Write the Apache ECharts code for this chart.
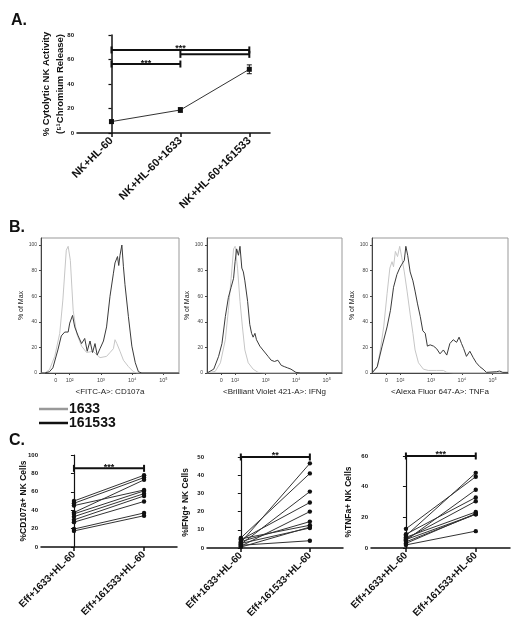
<!DOCTYPE html>
<html><head><meta charset="utf-8">
<script src="https://cdn.jsdelivr.net/npm/echarts@6/dist/echarts.min.js"></script>
<style>html,body{margin:0;padding:0;background:#fff}#c{width:520px;height:631px}</style>
</head><body><div id="c"></div><script>
// ---------- Panel A data ----------
const aCategories = ['NK+HL-60', 'NK+HL-60+1633', 'NK+HL-60+161533'];
const aMeans = [9.3, 18.8, 52];
const aErrors = [1.3, 1.9, 3.6];
const aBracketSpans = [[0, 2, 67.8], [1, 2, 64.2], [0, 1, 56.3]];
const aBracketLabels = ['***', '', '***'];
const aYTicks = [0, 20, 40, 60, 80];

// ---------- Panel B data (x in log-decade units, y = % of Max) ----------
const bTickValues = [1.55, 2, 3, 4, 5];
const bTickLabels = ['0', '10²', '10³', '10⁴', '10⁵'];
const bYTicks = [0, 20, 40, 60, 80, 100];
const bAxisNames = ['<FITC-A>: CD107a', '<Brilliant Violet 421-A>: IFNg', '<Alexa Fluor 647-A>: TNFa'];
const cd107Gray = [[1.08,0],[1.2,0],[1.35,2.6],[1.52,13],[1.68,31],[1.78,57],[1.89,96],[1.95,99],[2.02,88],[2.11,49],[2.22,31],[2.38,21],[2.54,16],[2.75,17],[2.97,12],[3.18,13],[3.29,16],[3.40,19],[3.45,26],[3.51,23],[3.61,17],[3.72,10],[3.88,5],[4.04,1],[4.15,0],[5.5,0]];
const cd107Black = [[1.08,0],[1.2,0],[1.35,1],[1.46,4],[1.62,18],[1.73,29],[1.84,32],[1.95,32],[2.0,39],[2.09,45],[2.16,36],[2.27,29],[2.38,23],[2.48,27],[2.56,17],[2.65,25],[2.73,16],[2.81,23],[2.88,14],[2.97,19],[3.08,25],[3.18,36],[3.29,60],[3.40,78],[3.45,86],[3.53,91],[3.57,84],[3.61,92],[3.67,100],[3.72,83],[3.77,69],[3.88,44],[3.99,21],[4.10,8],[4.20,1],[4.31,0],[5.5,0]];
const ifngGray = [[1.08,0],[1.14,0],[1.35,1.3],[1.52,8],[1.68,26],[1.78,49],[1.87,74],[1.95,97],[2.0,99],[2.08,82],[2.16,56],[2.24,36],[2.32,18],[2.43,8],[2.59,3],[2.75,0.5],[2.97,0],[5.5,0]];
const ifngBlack = [[1.08,0],[1.14,0],[1.30,3],[1.46,13],[1.57,23],[1.68,44],[1.78,59],[1.87,67],[1.95,74],[2.0,87],[2.05,97],[2.11,92],[2.16,99],[2.22,82],[2.27,79],[2.32,72],[2.41,56],[2.48,38],[2.54,31],[2.59,28],[2.65,31],[2.70,26],[2.81,21],[2.91,18],[3.08,13],[3.18,10],[3.29,9],[3.40,10],[3.51,6],[3.61,5],[3.72,4],[3.83,3],[3.99,0.5],[4.15,0],[5.5,0]];
const tnfGray = [[1.08,0],[1.12,0],[1.25,4],[1.35,18],[1.46,36],[1.57,62],[1.66,82],[1.73,87],[1.78,83],[1.84,95],[1.91,91],[1.98,99],[2.05,90],[2.13,79],[2.22,64],[2.32,46],[2.41,31],[2.48,18],[2.59,8],[2.75,3],[2.91,2],[3.18,2],[3.40,2],[3.51,0.5],[3.72,0],[5.5,0]];
const tnfBlack = [[1.08,0],[1.12,0],[1.25,5],[1.41,21],[1.57,36],[1.68,49],[1.78,67],[1.89,77],[1.98,82],[2.05,85],[2.13,88],[2.18,99],[2.24,92],[2.32,79],[2.41,72],[2.48,64],[2.56,54],[2.65,44],[2.73,33],[2.81,31],[2.88,21],[2.97,22],[3.08,21],[3.18,19],[3.29,15],[3.40,18],[3.51,14],[3.61,23],[3.72,26],[3.83,24],[3.91,28],[3.99,23],[4.06,19],[4.15,13],[4.26,17],[4.37,12],[4.47,8],[4.58,5],[4.69,3],[4.80,0.5],[5.12,1],[5.23,1.5],[5.33,0.5],[5.5,0.5]];

// ---------- Panel C data (paired donors) ----------
const cCategories = ['Eff+1633+HL-60', 'Eff+161533+HL-60'];
const cd107Before = [50, 47.5, 45, 37.5, 36, 33, 29.5, 27, 19.5, 17.5];
const cd107After  = [78, 75.5, 62, 73, 61, 58, 55.5, 49.5, 37, 34];
const ifngBefore  = [3, 5.5, 2, 4.5, 1, 3.5, 5, 0.5, 2.5, 1.5];
const ifngAfter   = [46.5, 41, 31, 25, 20, 14.5, 12.5, 11.5, 11, 4];
const tnfBefore   = [8, 12.5, 5, 9, 6, 7, 3, 5.5, 4, 2];
const tnfAfter    = [49, 46.5, 38, 33, 30.5, 23.5, 22.5, 22, 22, 11];
const cYNames = ['%CD107a+ NK Cells', '%IFNg+ NK Cells', '%TNFa+ NK Cells'];
const cYMax = [100, 50, 60];
const cYTicks = [[0,20,40,60,80,100],[0,10,20,30,40,50],[0,20,40,60]];
const cBracketY = [85.5, 50, 60];
const cBracketLabels = ['***', '**', '***'];

// ---------- build ----------
const FONT = 'Liberation Sans, Arial, sans-serif';
const INK = '#111';

function bracketSeries(xi, spans, labels, lw) {
  return {
    type: 'custom', xAxisIndex: xi, yAxisIndex: xi, silent: true, z: 5,
    data: spans,
    renderItem(params, api) {
      const p1 = api.coord([api.value(0), api.value(2)]);
      const p2 = api.coord([api.value(1), api.value(2)]);
      const cap = 3.5;
      const st = { stroke: INK, lineWidth: lw };
      const ch = [
        { type: 'line', shape: { x1: p1[0], y1: p1[1], x2: p2[0], y2: p2[1] }, style: st },
        { type: 'line', shape: { x1: p1[0], y1: p1[1] - cap, x2: p1[0], y2: p1[1] + cap }, style: st },
        { type: 'line', shape: { x1: p2[0], y1: p2[1] - cap, x2: p2[0], y2: p2[1] + cap }, style: st }
      ];
      const lab = labels[params.dataIndex];
      if (lab) ch.push({ type: 'text', x: (p1[0] + p2[0]) / 2, y: p1[1] - 1,
        style: { text: lab, align: 'center', verticalAlign: 'middle', font: 'bold 9px ' + FONT, fill: INK } });
      return { type: 'group', children: ch };
    }
  };
}

function pairSeries(xi, before, after) {
  return {
    type: 'custom', xAxisIndex: xi, yAxisIndex: xi, silent: true, z: 4,
    data: before.map((b, i) => [b, after[i]]),
    renderItem(params, api) {
      const p0 = api.coord([0, api.value(0)]);
      const p1 = api.coord([1, api.value(1)]);
      return { type: 'group', children: [
        { type: 'line', shape: { x1: p0[0], y1: p0[1], x2: p1[0], y2: p1[1] }, style: { stroke: '#333', lineWidth: 1 } },
        { type: 'circle', shape: { cx: p0[0], cy: p0[1], r: 2.2 }, style: { fill: INK } },
        { type: 'circle', shape: { cx: p1[0], cy: p1[1], r: 2.2 }, style: { fill: INK } }
      ]};
    }
  };
}

const grids = [
  { left: 77, top: 35, width: 193, height: 98 },
  { left: 41, top: 238, width: 138, height: 135, show: true, borderColor: '#999', borderWidth: 1 },
  { left: 207, top: 238, width: 135, height: 135, show: true, borderColor: '#999', borderWidth: 1 },
  { left: 372, top: 238, width: 136, height: 135, show: true, borderColor: '#999', borderWidth: 1 },
  { left: 41, top: 455, width: 136, height: 92 },
  { left: 207, top: 457, width: 136, height: 91 },
  { left: 371, top: 456, width: 139, height: 92 }
];

const xAxes = [];
const yAxes = [];
// A
xAxes.push({ gridIndex: 0, type: 'value', min: -0.5, max: 2.3,
  axisLine: { lineStyle: { color: INK, width: 1.5 } },
  axisTick: { customValues: [0, 1, 2], length: 4, lineStyle: { color: INK, width: 1.5 } },
  axisLabel: { customValues: [0, 1, 2], rotate: 45, margin: 6, fontFamily: FONT, fontSize: 11, fontWeight: 'bold', color: INK,
    formatter: v => aCategories[Math.round(v)] },
  splitLine: { show: false } });
yAxes.push({ gridIndex: 0, type: 'value', min: 0, max: 80,
  name: '% Cytolytic NK Activity\n(⁵¹Chromium Release)', nameLocation: 'middle', nameGap: 10, nameMoveOverlap: false,
  nameTextStyle: { fontFamily: FONT, fontSize: 9.5, fontWeight: 'bold', lineHeight: 14, color: INK },
  axisLine: { show: true, lineStyle: { color: INK, width: 1.5 } },
  axisTick: { show: true, customValues: aYTicks, length: 3, lineStyle: { color: INK, width: 1.2 } },
  axisLabel: { customValues: aYTicks, fontFamily: FONT, fontSize: 6, fontWeight: 'bold', color: INK, margin: 3 },
  splitLine: { show: false } });
// B
for (let k = 0; k < 3; k++) {
  xAxes.push({ gridIndex: 1 + k, type: 'value', min: 1.08, max: 5.5,
    name: bAxisNames[k], nameLocation: 'middle', nameGap: 15,
    nameTextStyle: { fontFamily: FONT, fontSize: 8, color: '#222' },
    axisLine: { onZero: false, lineStyle: { color: '#444', width: 1 } },
    axisTick: { customValues: bTickValues, length: 2, lineStyle: { color: '#444' } },
    axisLabel: { customValues: bTickValues, fontFamily: FONT, fontSize: 5.5, color: '#444', margin: 4,
      formatter: v => { let bi = 0; bTickValues.forEach((t, i) => { if (Math.abs(t - v) < Math.abs(bTickValues[bi] - v)) bi = i; }); return bTickLabels[bi]; } },
    splitLine: { show: false } });
  yAxes.push({ gridIndex: 1 + k, type: 'value', min: 0, max: 105.5,
    name: '% of Max', nameLocation: 'middle', nameGap: 16,
    nameTextStyle: { fontFamily: FONT, fontSize: 7, color: '#222' },
    axisLine: { show: true, lineStyle: { color: '#444', width: 1 } },
    axisTick: { show: true, customValues: bYTicks, length: 2, lineStyle: { color: '#444' } },
    axisLabel: { customValues: bYTicks, fontFamily: FONT, fontSize: 5, color: '#444', margin: 4 },
    splitLine: { show: false } });
}
// C
const cX = [[-0.47, 1.47], [-0.49, 1.48], [-0.5, 1.49]];
const cNameGap = [13, 17, 18];
for (let k = 0; k < 3; k++) {
  xAxes.push({ gridIndex: 4 + k, type: 'value', min: cX[k][0], max: cX[k][1],
    axisLine: { lineStyle: { color: INK, width: 1.5 } },
    axisTick: { customValues: [0, 1], length: 4, lineStyle: { color: INK, width: 1.5 } },
    axisLabel: { customValues: [0, 1], rotate: 45, margin: 6, fontFamily: FONT, fontSize: 10, fontWeight: 'bold', color: INK,
      formatter: v => cCategories[Math.round(v)] },
    splitLine: { show: false } });
  yAxes.push({ gridIndex: 4 + k, type: 'value', min: 0, max: cYMax[k],
    name: cYNames[k], nameLocation: 'middle', nameGap: cNameGap[k], nameMoveOverlap: false,
    nameTextStyle: { fontFamily: FONT, fontSize: 8.5, fontWeight: 'bold', color: INK },
    axisLine: { show: true, lineStyle: { color: INK, width: 1.2 } },
    axisTick: { show: true, customValues: cYTicks[k], length: 3, lineStyle: { color: INK } },
    axisLabel: { customValues: cYTicks[k], fontFamily: FONT, fontSize: 6, fontWeight: 'bold', color: INK, margin: 3 },
    splitLine: { show: false } });
}

const GRAY = '#c6c6c6', BLACK = '#3a3a3a';
function histo(idx, name, data, color) {
  return { type: 'line', name: name, xAxisIndex: idx, yAxisIndex: idx, data: data, symbol: 'none', showSymbol: false,
    lineStyle: { color: color, width: 1 }, itemStyle: { color: color }, z: name === '1633' ? 2 : 3, silent: true };
}

const series = [
  { type: 'line', xAxisIndex: 0, yAxisIndex: 0, data: aMeans.map((v, i) => [i, v]), symbol: 'rect', symbolSize: 5,
    lineStyle: { color: '#333', width: 1 }, itemStyle: { color: INK }, silent: true },
  { type: 'custom', xAxisIndex: 0, yAxisIndex: 0, silent: true,
    data: aMeans.map((v, i) => [i, v, aErrors[i]]),
    renderItem(params, api) {
      const lo = api.coord([api.value(0), api.value(1) - api.value(2)]);
      const hi = api.coord([api.value(0), api.value(1) + api.value(2)]);
      const st = { stroke: INK, lineWidth: 1 };
      return { type: 'group', children: [
        { type: 'line', shape: { x1: lo[0], y1: lo[1], x2: hi[0], y2: hi[1] }, style: st },
        { type: 'line', shape: { x1: lo[0] - 2.5, y1: lo[1], x2: lo[0] + 2.5, y2: lo[1] }, style: st },
        { type: 'line', shape: { x1: hi[0] - 2.5, y1: hi[1], x2: hi[0] + 2.5, y2: hi[1] }, style: st }
      ]};
    } },
  bracketSeries(0, aBracketSpans, aBracketLabels, 2),
  histo(1, '1633', cd107Gray, GRAY), histo(1, '161533', cd107Black, BLACK),
  histo(2, '1633', ifngGray, GRAY), histo(2, '161533', ifngBlack, BLACK),
  histo(3, '1633', tnfGray, GRAY), histo(3, '161533', tnfBlack, BLACK),
  pairSeries(4, cd107Before, cd107After),
  pairSeries(5, ifngBefore, ifngAfter),
  pairSeries(6, tnfBefore, tnfAfter),
  bracketSeries(4, [[0, 1, cBracketY[0]]], [cBracketLabels[0]], 2),
  bracketSeries(5, [[0, 1, cBracketY[1]]], [cBracketLabels[1]], 2),
  bracketSeries(6, [[0, 1, cBracketY[2]]], [cBracketLabels[2]], 2)
];

const chart = echarts.init(document.getElementById('c'), null, { renderer: 'canvas' });
chart.setOption({
  animation: false,
  backgroundColor: '#fff',
  title: [
    { text: 'A.', left: 6, top: 8, textStyle: { fontFamily: FONT, fontSize: 16, fontWeight: 'bold', color: INK } },
    { text: 'B.', left: 4, top: 215, textStyle: { fontFamily: FONT, fontSize: 16, fontWeight: 'bold', color: INK } },
    { text: 'C.', left: 4, top: 428, textStyle: { fontFamily: FONT, fontSize: 16, fontWeight: 'bold', color: INK } }
  ],
  legend: { data: [ { name: '1633', itemStyle: { color: '#999' } }, { name: '161533', itemStyle: { color: INK } } ],
    orient: 'vertical', left: 34, top: 397, icon: 'rect', itemWidth: 29, itemHeight: 2.5, itemGap: 0,
    selectedMode: false, textStyle: { fontFamily: FONT, fontSize: 14, fontWeight: 'bold', color: INK, padding: [0, 0, 0, -4] } },
  grid: grids,
  xAxis: xAxes,
  yAxis: yAxes,
  series: series
});
</script></body></html>
